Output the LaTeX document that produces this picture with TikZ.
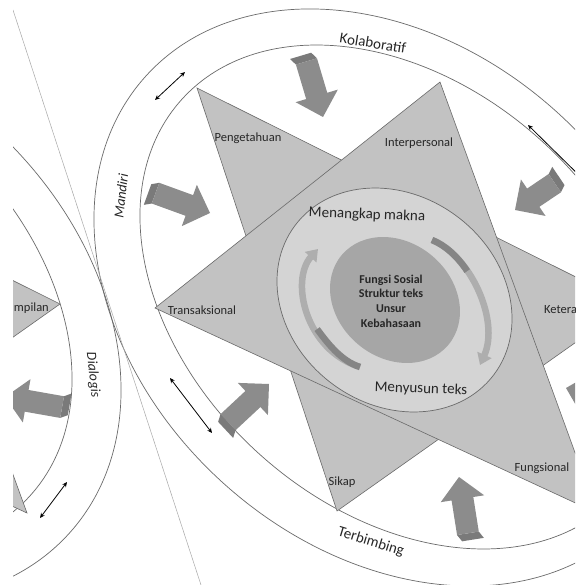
\documentclass[tikz,border=0pt]{standalone}
\usepackage{fontspec}
\setmainfont{Carlito}
\usetikzlibrary{arrows.meta}
\definecolor{linegray}{HTML}{6A6A6A}
\definecolor{stargray}{HTML}{C2C2C2}
\definecolor{ringgray}{HTML}{D4D4D4}
\definecolor{coregray}{HTML}{A6A6A6}
\definecolor{arrowgray}{HTML}{8C8C8C}
\definecolor{arrowside}{HTML}{7A7A7A}
\definecolor{cyclight}{HTML}{AEAEAE}
\definecolor{cycdark}{HTML}{858585}
\definecolor{txt}{HTML}{262626}
\definecolor{creasegray}{HTML}{A8A8A8}
\tikzset{
  ringline/.style={draw=linegray, line width=0.7pt},
  starshape/.style={fill=stargray, draw=linegray, line width=0.6pt, line join=miter},
  lbl/.style={font=\fontsize{12.5}{14}\selectfont, text=txt, inner sep=0pt},
  bigtext/.style={font=\fontsize{15}{18}\selectfont, text=txt, inner sep=0pt},
  ringtext/.style={font=\fontsize{15}{18}\selectfont, text=txt, inner sep=0pt},
  ringital/.style={font=\fontsize{14}{16}\selectfont\itshape, text=txt, inner sep=0pt},
  coretext/.style={font=\fontsize{12}{14.7}\selectfont\bfseries, text=txt, align=center, inner sep=0pt},
  dblarrow/.style={{Stealth[length=5pt,width=4.5pt]}-{Stealth[length=5pt,width=4.5pt]}, line width=0.8pt, draw=black},
  cycarrow/.style={line width=6.5pt, -{Triangle[width=15pt,length=11pt]}},
  creaseline/.style={draw=creasegray, line width=0.5pt},
  blockarrow/.pic={
    \fill[arrowside] (-#1,-11) -- (-#1-7,-7) -- (-#1-7,15) -- (-#1,11) -- cycle;
    \fill[arrowgray] (0,0) -- (-22,-22) -- (-22,-11) -- (-#1,-11) -- (-#1,11) -- (-22,11) -- (-22,22) -- cycle;
  }
}
\begin{document}
\begin{tikzpicture}[x=1pt,y=-1pt]
\useasboundingbox (0,0) rectangle (575,585);
\fill[white] (0,0) rectangle (575,585);
\begin{scope}
\clip (13,0) rectangle (575,585);
% ---------- left (cut-off) diagram ----------
\draw[ringline, rotate around={-42.3:(-175,312)}] (-175,312) ellipse [x radius=329.6pt, y radius=249.5pt];
\draw[ringline, rotate around={-42.2:(-188,298)}] (-188,298) ellipse [x radius=294.4pt, y radius=210.8pt];
\begin{scope}[shift={(-570,0)}]
  \filldraw[starshape] (197,88) -- (337,511) -- (630,304) -- cycle;
  \filldraw[starshape] (440,82) -- (155,308) -- (597,513) -- cycle;
\end{scope}
\node[lbl, anchor=east] (lketer) at (49,308) {Keterampilan};
\pic[rotate=170] at (5,397) {blockarrow=58};
\coordinate (d4a) at (40,518);
\coordinate (d4b) at (67,482);
\draw[dblarrow] (d4a) -- (d4b);
\node[ringital, rotate=-84] (dialogis) at (93,375) {Dialogis};
% ---------- main diagram ----------
\draw[ringline, rotate around={-42.3:(390,297.5)}] (390,297.5) ellipse [x radius=329.6pt, y radius=249.5pt];
\draw[ringline, rotate around={-42.2:(400,297)}] (400,297) ellipse [x radius=294.4pt, y radius=210.8pt];
\coordinate (P) at (197,88);
\coordinate (S) at (337,511);
\coordinate (K) at (630,304);
\coordinate (I) at (440,82);
\coordinate (T) at (155,308);
\coordinate (F) at (597,513);
\filldraw[starshape] (P) -- (S) -- (K) -- cycle;
\filldraw[starshape] (I) -- (T) -- (F) -- cycle;
\filldraw[fill=ringgray, draw=linegray, line width=0.7pt, rotate around={-36.9:(394.5,300)}] (394.5,300) ellipse [x radius=124.3pt, y radius=104.4pt];
\fill[coregray, rotate around={-40.2:(395,300)}] (395,300) ellipse [x radius=69.7pt, y radius=57.7pt];
% cycle arrows
\draw[cycarrow, draw=cyclight] (360,367) .. controls (305,350) and (290,280) .. (318,249);
\draw[line width=6.5pt, draw=cycdark] (360,367) .. controls (340.75,361.05) and (326.4,341.6) .. (317.1,329.1);
\draw[cycarrow, draw=cyclight] (432,240) .. controls (470,255) and (500,320) .. (480,365);
\draw[line width=6.5pt, draw=cycdark] (432,240) .. controls (445.3,245.25) and (457.6,256.6) .. (467.2,271.1);
% block arrows
\pic[rotate=-73.4] at (323,117) {blockarrow=58};
\pic[rotate=-146] at (515,210) {blockarrow=48};
\pic[rotate=-20] at (210,213) {blockarrow=58};
\pic[rotate=43] at (269,384) {blockarrow=56};
\pic[rotate=99] at (459,477) {blockarrow=57};
\pic[rotate=165] at (566,388) {blockarrow=58};
% double arrows in the ring
\coordinate (d1a) at (155,100);
\coordinate (d1b) at (185,72);
\draw[dblarrow] (d1a) -- (d1b);
\coordinate (d2a) at (528,125);
\coordinate (d2b) at (592,188);
\draw[dblarrow] (d2a) -- (d2b);
\coordinate (d3a) at (170,378);
\coordinate (d3b) at (212,433);
\draw[dblarrow] (d3a) -- (d3b);
% texts
\node[lbl] (peng) at (248,138) {Pengetahuan};
\node[lbl] (inter) at (419,143) {Interpersonal};
\node[lbl] (trans) at (202,310) {Transaksional};
\node[lbl, anchor=west] (keter) at (544,310) {Keterampilan};
\node[lbl] (fungs) at (542,468) {Fungsional};
\node[lbl] (sikap) at (342,482) {Sikap};
\node[bigtext, rotate=-2] (menangkap) at (367,215) {Menangkap makna};
\node[bigtext, rotate=-2] (menyusun) at (421,389) {Menyusun teks};
\node[coretext] (core) at (391,301) {Fungsi Sosial\\Struktur teks\\Unsur\\Kebahasaan};
\node[ringtext, rotate=-9] (kolab) at (373,43) {Kolaboratif};
\node[ringtext, rotate=-17] (terb) at (371,542) {Terbimbing};
\node[ringital, rotate=84] (mandiri) at (121,196) {Mandiri};
% crease
\coordinate (c1) at (13,10);
\coordinate (c2) at (201,585);
\draw[creaseline] (c1) -- (c2);
\end{scope}
\end{tikzpicture}
\end{document}
